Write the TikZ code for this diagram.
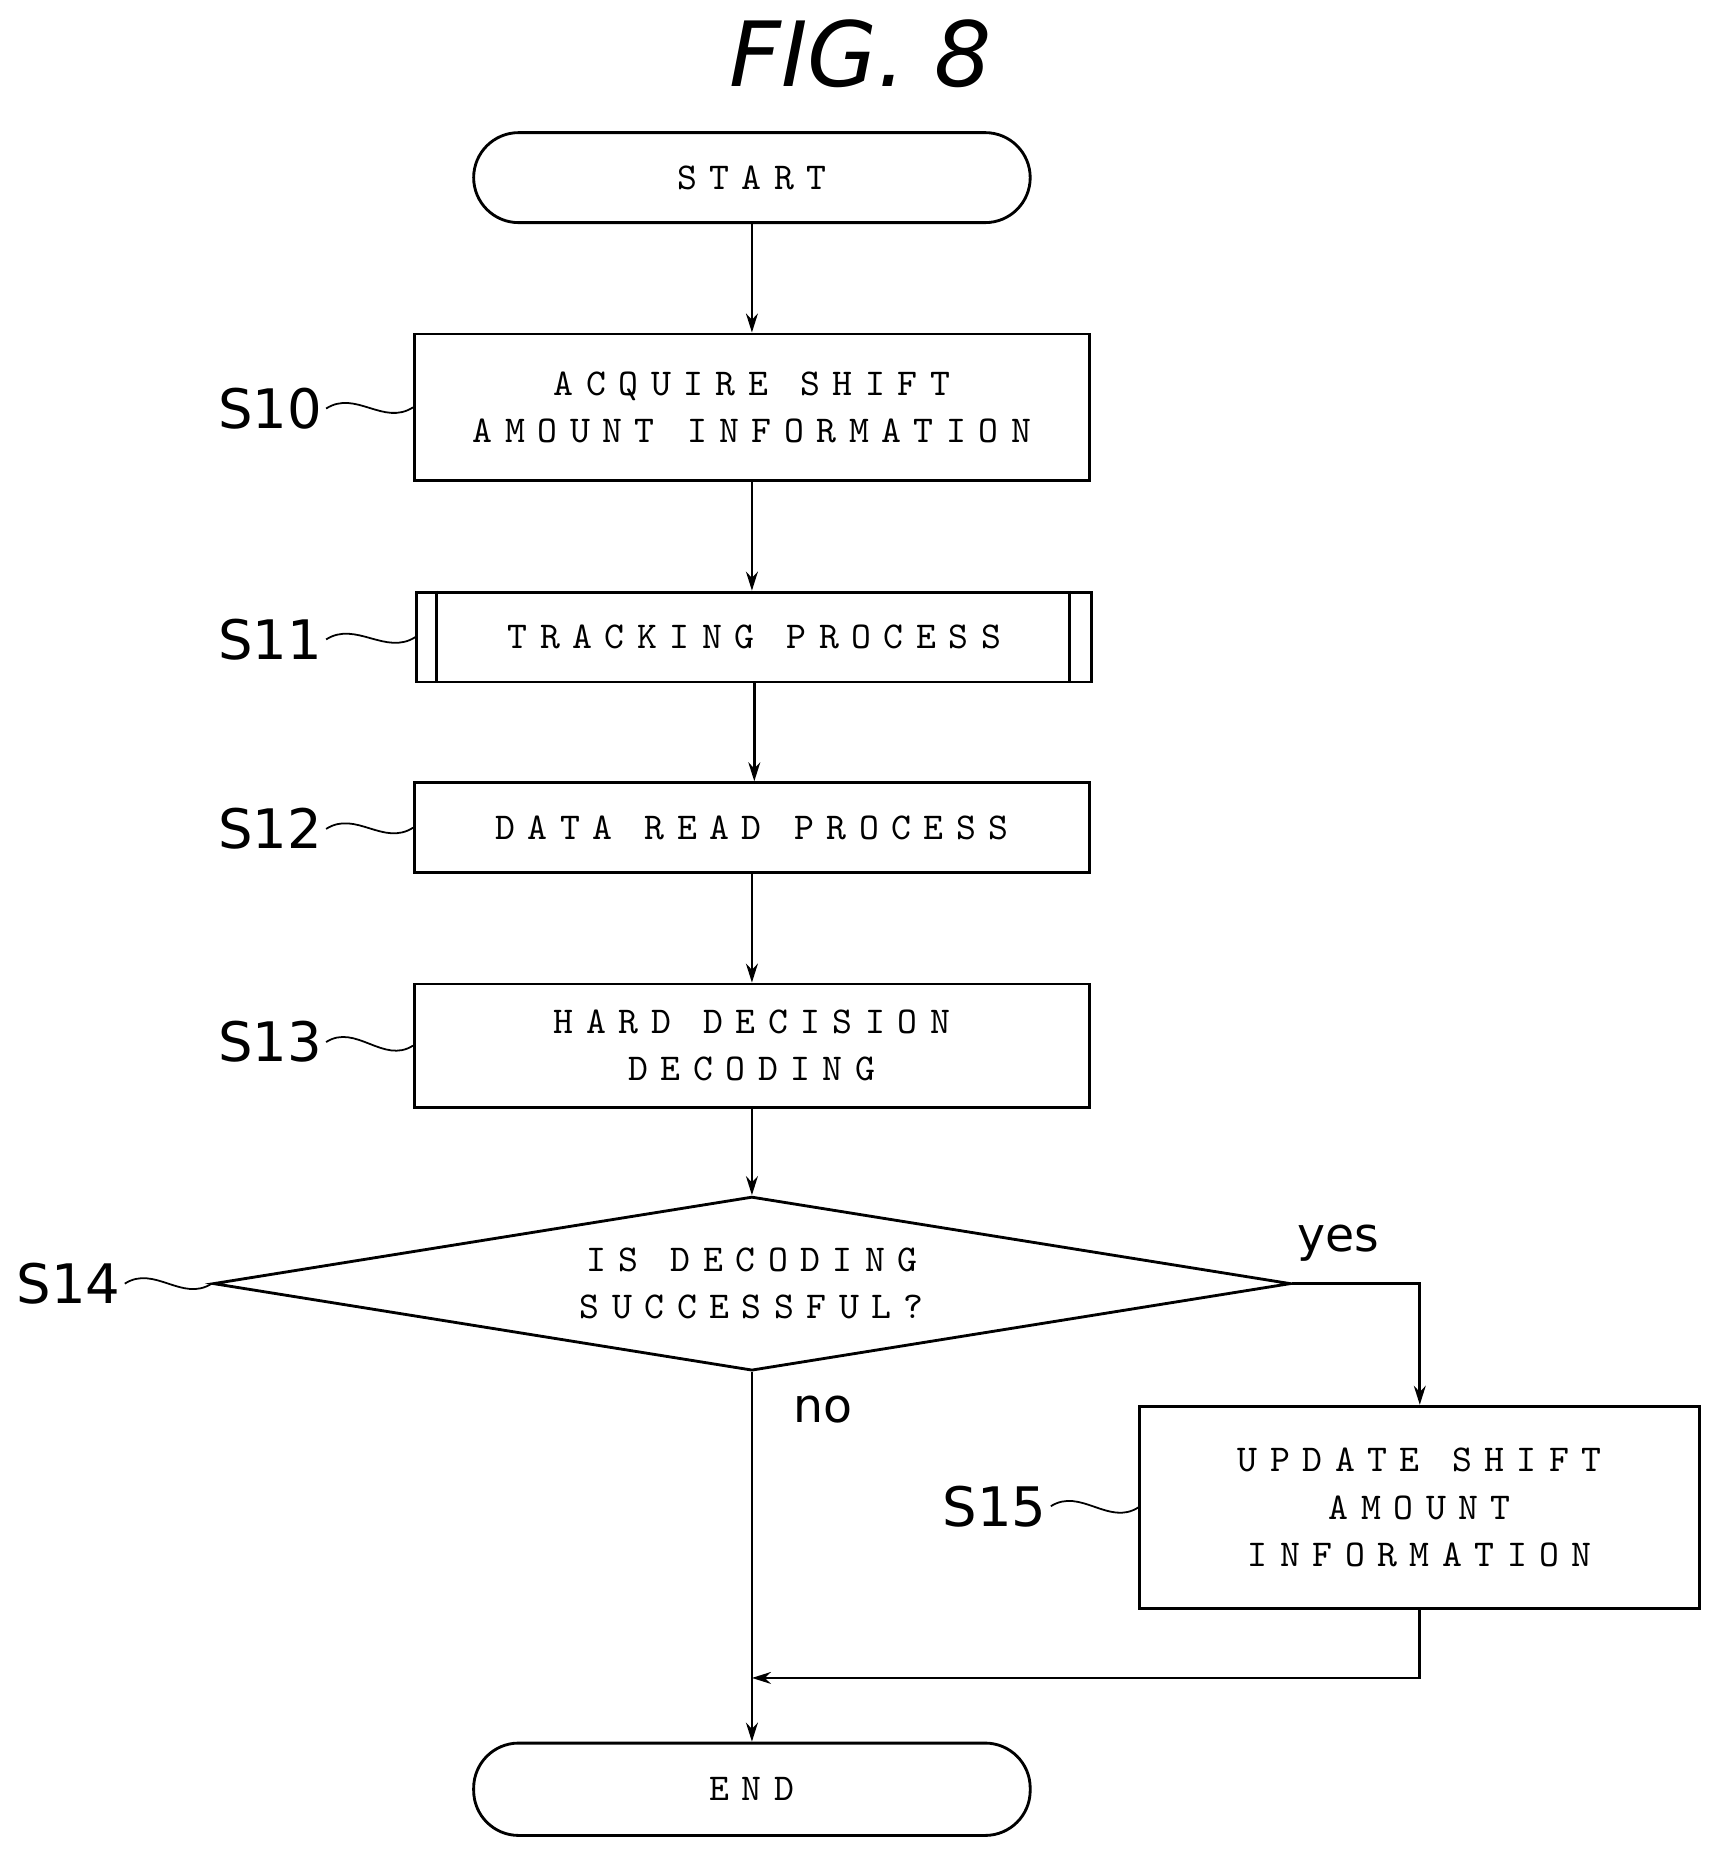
\documentclass[tikz,border=0pt]{standalone}
\usepackage{fontspec}
\setmainfont{DejaVu Sans}
\newfontfamily\boxfont[LetterSpace=33]{lmmono10-regular.otf}
\usetikzlibrary{shapes.geometric,arrows.meta}
\begin{document}
\begin{tikzpicture}[x=1pt,y=-1pt,
  bx/.style={draw,line width=2.4pt,font=\boxfont\fontsize{32}{40}\selectfont,align=center,inner sep=0pt},
  lbl/.style={font=\fontsize{46}{50}\selectfont},
  yn/.style={font=\fontsize{40}{44}\selectfont},
  arr/.style={line width=2.4pt,-{Stealth[length=16pt,width=10pt]}},
  ln/.style={line width=2.4pt},
  wav/.style={line width=1.5pt}]
\useasboundingbox (0,0) rectangle (1450,1564);
\node[font=\itshape\fontsize{76}{80}\selectfont] (fig) at (727,45) {FIG. 8};
\node[bx,rounded corners=38pt,minimum width=470pt,minimum height=76pt] (start) at (635,150) {START};
\node[bx,minimum width=570pt,minimum height=124pt] (s10) at (635,344) {ACQUIRE SHIFT\\AMOUNT INFORMATION};
\node[bx,minimum width=570pt,minimum height=76pt] (s11) at (637,538) {TRACKING PROCESS};
\draw[ln] ([xshift=18pt]s11.north west) -- ([xshift=18pt]s11.south west);
\draw[ln] ([xshift=-20pt]s11.north east) -- ([xshift=-20pt]s11.south east);
\node[bx,minimum width=570pt,minimum height=76pt] (s12) at (635,699) {DATA READ PROCESS};
\node[bx,minimum width=570pt,minimum height=104pt] (s13) at (635,883) {HARD DECISION\\DECODING};
\node[bx,diamond,aspect=6.2,minimum width=910pt,minimum height=147pt] (s14) at (635,1084) {IS DECODING\\SUCCESSFUL?};
\node[bx,minimum width=473pt,minimum height=171pt] (s15) at (1199,1273) {UPDATE SHIFT\\AMOUNT\\INFORMATION};
\node[bx,rounded corners=38pt,minimum width=470pt,minimum height=78pt] (end) at (635,1511) {END};
\coordinate (m) at (635,1417);
\draw[arr] (start) -- (s10);
\draw[arr] (s10) -- (s11.north -| s10.south);
\draw[arr] (s11) -- (s12.north -| s11.south);
\draw[arr] (s12) -- (s13);
\draw[arr] (s13) -- (s14);
\draw[arr] (s14.south) -- (end);
\draw[arr] (s14.east) -| (s15.north);
\draw[arr] (s15.south) |- (m);
\node[yn] (yes) at (1130,1050) {yes};
\node[yn] (no) at (695,1190) {no};
\node[lbl] (l10) at (228,345) {S10};
\node[lbl] (l11) at (228,540) {S11};
\node[lbl] (l12) at (228,700) {S12};
\node[lbl] (l13) at (228,880) {S13};
\node[lbl] (l14) at (58,1084) {S14};
\node[lbl] (l15) at (840,1272) {S15};
\foreach \a/\b in {l10/s10,l11/s11,l12/s12,l13/s13,l15/s15}
  \draw[wav] (\a.east) .. controls +(25,-16) and +(-25,16) .. (\b.west);
\draw[wav] (l14.east) .. controls +(25,-16) and +(-25,16) .. (s14.west);
\end{tikzpicture}
\end{document}
